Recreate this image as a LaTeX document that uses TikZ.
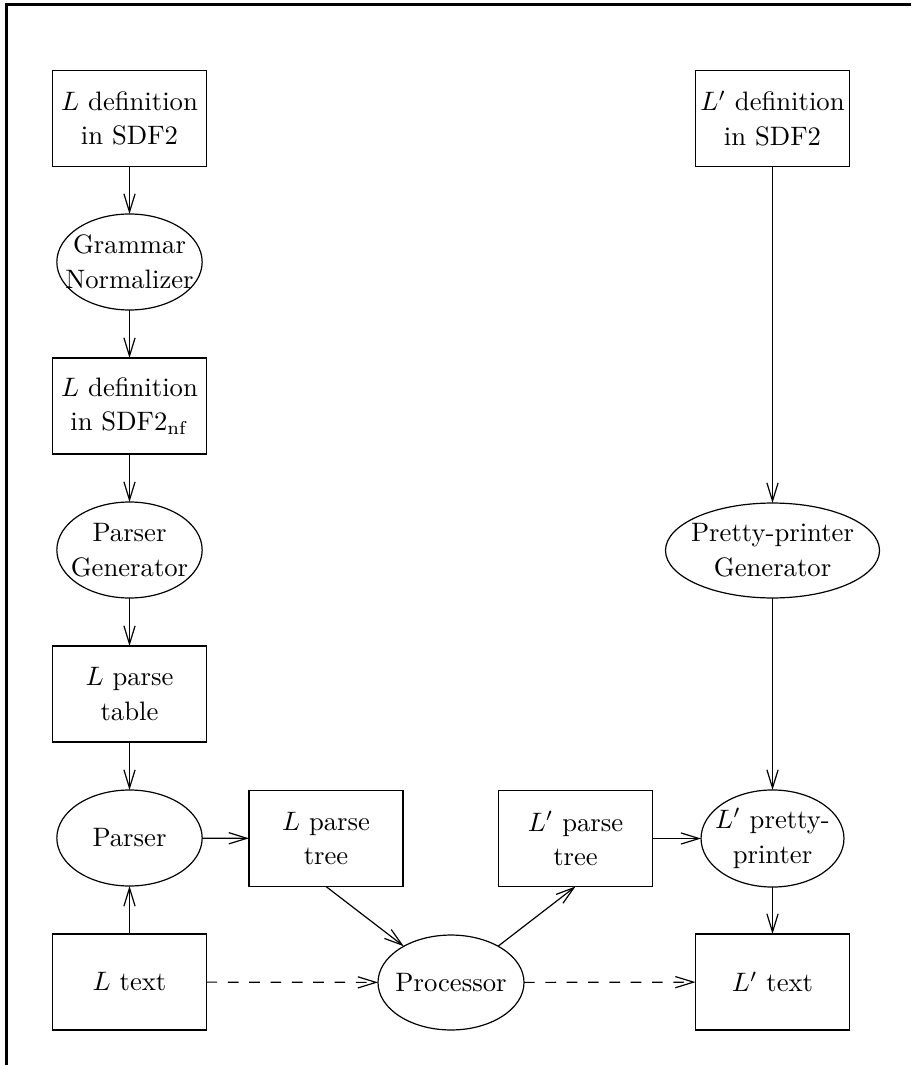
\documentclass[tikz,border=0pt]{standalone}
\usetikzlibrary{arrows.meta,shapes.geometric}
\begin{document}
\begin{tikzpicture}[x=0.375pt,y=-0.375pt,
  every node/.style={font=\fontsize{10}{13}\selectfont, align=center,
                     inner sep=0pt, outer sep=0pt},
  doc/.style={draw, line width=0.45pt, rectangle,
              minimum width=57.75pt, minimum height=36pt},
  tool/.style={draw, line width=0.45pt, ellipse, inner xsep=-8pt, inner ysep=-1pt,
               minimum width=54.5pt, minimum height=36pt},
  flow/.style={line width=0.45pt, -{Straight Barb[length=6.8pt,width=4.2pt]}},
  textflow/.style={flow, dash pattern=on 4pt off 4pt}]
\useasboundingbox (0,0) rectangle (911,1065);

% frame rules along the top and left edges
\draw[line width=1.3pt] (6.5,1065) -- (6.5,4.5) -- (911,4.5);

% left column: parser generation
\node[doc]  (ldef)   at (129.5,118.5) {$L$ definition\\in SDF2};
\node[tool] (norm)   at (129.5,262)   {Grammar\\Normalizer};
\node[doc]  (ldefnf) at (129.5,406)   {$L$ definition\\in SDF2$_{\rm nf}$};
\node[tool] (pgen)   at (129.5,550)   {Parser\\Generator};
\node[doc]  (ptab)   at (129.5,694)   {$L$ parse\\table};
\node[tool] (parser) at (129.5,838)   {Parser};
\node[doc]  (ltext)  at (129.5,982)   {$L$ text};

% middle: trees and processor
\node[doc]  (ltree)  at (326,838.5)   {$L$ parse\\tree};
\node[tool, minimum width=54.75pt, minimum height=35.6pt]
            (proc)   at (451,982.5)   {Processor};
\node[doc]  (lptree) at (575.5,838.5) {$L'$ parse\\tree};

% right column: pretty-printer generation
\node[doc]  (lpdef)  at (772.5,118.5) {$L'$ definition\\in SDF2};
\node[tool, minimum width=80.25pt, minimum height=35.6pt]
            (ppgen)  at (772.5,550.5) {Pretty-printer\\Generator};
\node[tool, minimum width=53.6pt, minimum height=36.4pt]
            (pp)     at (772.5,838.5) {$L'$ pretty-\\printer};
\node[doc]  (lptext) at (772.5,982)   {$L'$ text};

% connectors
\draw[flow] (ldef) -- (norm);
\draw[flow] (norm) -- (ldefnf);
\draw[flow] (ldefnf) -- (pgen);
\draw[flow] (pgen) -- (ptab);
\draw[flow] (ptab) -- (parser);
\draw[flow] (ltext) -- (parser);
\draw[flow] (parser) -- (ltree);
\draw[flow] (ltree.south) -- (proc);
\draw[flow] (proc) -- (lptree.south);
\draw[flow] (lptree) -- (pp);
\draw[flow] (lpdef) -- (ppgen);
\draw[flow] (ppgen) -- (pp);
\draw[flow] (pp) -- (lptext);
\draw[textflow] (ltext) -- (proc);
\draw[textflow] (proc) -- (lptext);
\end{tikzpicture}
\end{document}
